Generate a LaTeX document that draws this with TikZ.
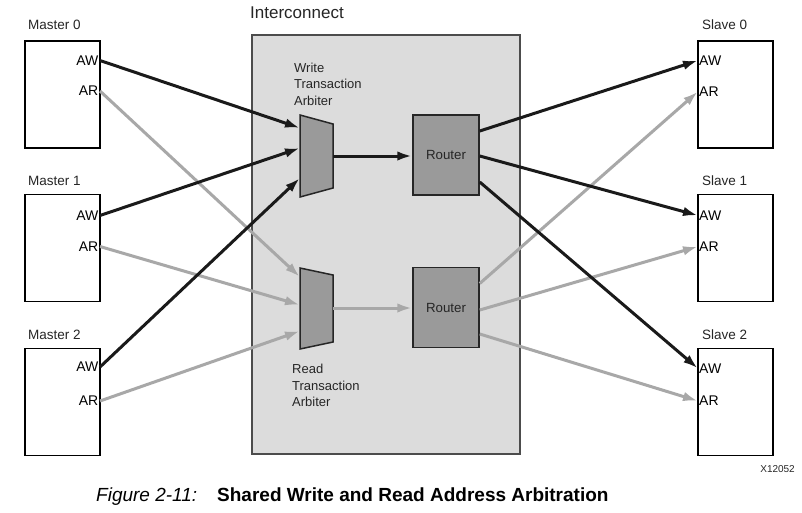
\documentclass[tikz,border=0pt]{standalone}
\usepackage{fontspec}
\setmainfont{Liberation Sans}
\usetikzlibrary{arrows.meta}
\definecolor{icfill}{HTML}{DCDCDC}
\definecolor{blkfill}{HTML}{9A9A9A}
\definecolor{grayline}{HTML}{A8A8A8}
\definecolor{blkline}{HTML}{1A1A1A}
\tikzset{
  mbox/.style={draw=black, line width=1.5pt, fill=white, minimum width=75pt, minimum height=107pt, inner sep=0pt},
  portl/.style={anchor=east, inner sep=1.5pt, font=\fontsize{14}{16}\selectfont},
  portr/.style={anchor=west, inner sep=1pt, font=\fontsize{14}{16}\selectfont},
  title/.style={anchor=west, inner sep=0pt, font=\fontsize{13.5}{16}\selectfont, text=black!85},
  router/.style={draw=black!85, line width=1.5pt, fill=blkfill, minimum width=66pt, minimum height=80pt, inner sep=0pt, font=\fontsize{13.3}{16}\selectfont, text=black!85},
  arb/.style={draw=black!85, line width=1.5pt, fill=blkfill},
  warrow/.style={draw=blkline, line width=3pt, -{Latex[length=15pt,width=9.5pt]}},
  rarrow/.style={draw=grayline, line width=3pt, -{Latex[length=15pt,width=9.5pt]}},
  lbl/.style={anchor=north west, inner sep=0pt, align=left, font=\fontsize{13}{16.5}\selectfont, text=black!85}
}
\begin{document}
\begin{tikzpicture}[x=1pt,y=-1pt]
\useasboundingbox (0,0) rectangle (802,512);
\fill[white] (0,0) rectangle (802,512);

% Interconnect
\node[draw=black!70, line width=1.2pt, fill=icfill, minimum width=268pt, minimum height=419pt, inner sep=0pt] (ic) at (386,244.5) {};
\node[anchor=west, inner sep=0pt, font=\fontsize{17}{20}\selectfont, text=black!85] (ict) at (250,13) {Interconnect};

% Masters
\node[mbox] (m0) at (62.5,94.5) {};
\node[mbox] (m1) at (62.5,248) {};
\node[mbox] (m2) at (62.5,402) {};
\node[title] (m0t) at (28,24.5) {Master 0};
\node[title] (m1t) at (28,180.5) {Master 1};
\node[title] (m2t) at (28,334.5) {Master 2};
\node[portl] (m0aw) at (100,60.5) {AW};
\node[portl] (m0ar) at (100,91) {AR};
\node[portl] (m1aw) at (100,215.5) {AW};
\node[portl] (m1ar) at (100,246.5) {AR};
\node[portl] (m2aw) at (100,367) {AW};
\node[portl] (m2ar) at (100,401) {AR};

% Slaves
\node[mbox] (s0) at (735.5,94.5) {};
\node[mbox] (s1) at (735.5,248) {};
\node[mbox] (s2) at (735.5,402) {};
\node[title] (s0t) at (702,24.5) {Slave 0};
\node[title] (s1t) at (702,180.5) {Slave 1};
\node[title] (s2t) at (702,334.5) {Slave 2};
\node[portr] (s0aw) at (698,60.5) {AW};
\node[portr] (s0ar) at (698,91.5) {AR};
\node[portr] (s1aw) at (698,215.5) {AW};
\node[portr] (s1ar) at (698,246.5) {AR};
\node[portr] (s2aw) at (698,368.5) {AW};
\node[portr] (s2ar) at (698,401) {AR};

% Arbiters
\draw[arb] (300,115) -- (333,124) -- (333,188) -- (300,197) -- cycle;
\draw[arb] (300,268) -- (333,275) -- (333,342) -- (300,349) -- cycle;
\coordinate (wi0) at (300,128);
\coordinate (wi1) at (300,148);
\coordinate (wi2) at (300,178);
\coordinate (wo) at (333,156);
\coordinate (ri0) at (300,277);
\coordinate (ri1) at (300,305);
\coordinate (ri2) at (300,331);
\coordinate (ro) at (333,308);
\node[lbl] (wl) at (294,62.5) {Write\\Transaction\\Arbiter};
\node[lbl] (rl) at (292,364) {Read\\Transaction\\Arbiter};

% Routers
\node[router] (r1) at (446,155) {Router};
\node[router] (r2) at (446,307.5) {Router};

% Read (gray) connectors
\draw[rarrow] (m0ar.east) -- (ri0);
\draw[rarrow] (m1ar.east) -- (ri1);
\draw[rarrow] (m2ar.east) -- (ri2);
\draw[rarrow] (ro) -- (r2.west |- ro);
\draw[rarrow] ([yshift=24pt]r2.east) -- (s0ar.west);
\draw[rarrow] ([yshift=-2.5pt]r2.east) -- (s1ar.west);
\draw[rarrow] ([yshift=-26.5pt]r2.east) -- (s2ar.west);

% Write (black) connectors
\draw[warrow] (m0aw.east) -- (wi0);
\draw[warrow] (m1aw.east) -- (wi1);
\draw[warrow] (m2aw.east) -- (wi2);
\draw[warrow] (wo) -- (r1.west |- wo);
\draw[warrow] ([yshift=24pt]r1.east) -- (s0aw.west);
\draw[warrow] ([yshift=-1pt]r1.east) -- (s1aw.west);
\draw[warrow] ([yshift=-27pt]r1.east) -- (s2aw.west);

% Caption
\node[anchor=east, inner sep=0pt, font=\fontsize{10}{12}\selectfont, text=black!85] (xid) at (795,469) {X12052};
\node[anchor=base west, inner sep=0pt, font=\fontsize{19}{22}\selectfont\itshape] (fig) at (96,501) {Figure 2-11:};
\node[anchor=base west, inner sep=0pt, font=\fontsize{19}{22}\selectfont\bfseries] (cap) at (217,501) {Shared Write and Read Address Arbitration};
\end{tikzpicture}
\end{document}
